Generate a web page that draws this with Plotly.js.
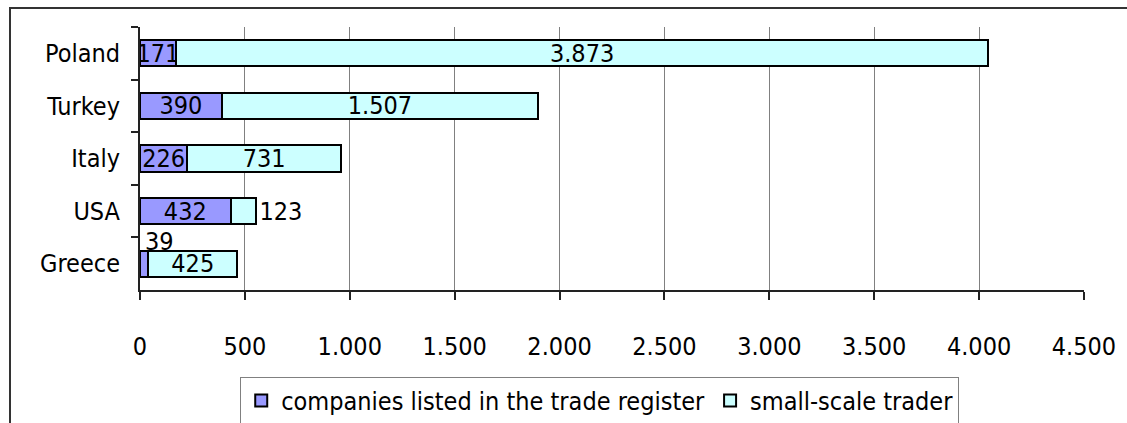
<!DOCTYPE html>
<html>
<head>
<meta charset="utf-8">
<script src="https://cdn.plot.ly/plotly-3.0.1.min.js"></script>
<style>
html,body{margin:0;padding:0;background:#fff;overflow:hidden;}
#wrap{position:relative;width:1127px;height:423px;overflow:hidden;}
#chart{width:1127px;height:423px;}
#frame{position:absolute;left:9px;top:7px;width:2000px;height:2000px;border-left:2px solid #333;border-top:2px solid #333;pointer-events:none;}
</style>
</head>
<body>
<div id="wrap">
<div id="chart"></div>
<div id="frame"></div>
</div>
<script>
var categories = ["Poland", "Turkey", "Italy", "USA", "Greece"];
var companies = [171, 390, 226, 432, 39];
var smallScale = [3873, 1507, 731, 123, 425];
var seriesNames = ["companies listed in the trade register", "small-scale trader"];
var tickVals = [0, 500, 1000, 1500, 2000, 2500, 3000, 3500, 4000, 4500];

var FONT = '"DejaVu Sans Condensed", "Liberation Sans Narrow", "DejaVu Sans", sans-serif';
var FS = 25;

// labels that do not sit inside their bar
var compPos = companies.map(function(v){ return v < 100 ? 'none' : 'inside'; });
var smallPos = smallScale.map(function(v){ return v < 200 ? 'outside' : 'inside'; });

var traces = [
  {
    type: 'bar', orientation: 'h', name: seriesNames[0],
    y: categories, x: companies,
    marker: {color: '#9999FF', line: {color: '#000', width: 2}},
    texttemplate: '%{x:,d}', textposition: compPos,
    insidetextanchor: 'middle', constraintext: 'none',
    textfont: {family: FONT, size: FS, color: '#000'},
    hoverinfo: 'none'
  },
  {
    type: 'bar', orientation: 'h', name: seriesNames[1],
    y: categories, x: smallScale,
    marker: {color: '#CCFFFF', line: {color: '#000', width: 2}},
    texttemplate: '%{x:,d}', textposition: smallPos,
    insidetextanchor: 'middle', constraintext: 'none', cliponaxis: false,
    textfont: {family: FONT, size: FS, color: '#000'},
    hoverinfo: 'none'
  }
];

var annotations = [];
companies.forEach(function(v, i){
  if (compPos[i] === 'none') {
    annotations.push({
      x: 0, y: categories[i], xref: 'x', yref: 'y',
      text: String(v),
      showarrow: false, xanchor: 'left', yanchor: 'middle',
      xshift: 3, yshift: 22,
      font: {family: FONT, size: FS, color: '#000'}
    });
  }
});

var layout = {
  width: 1127, height: 423,
  margin: {l: 140, r: 43, t: 27, b: 133, pad: 0, autoexpand: false},
  paper_bgcolor: 'rgba(0,0,0,0)', plot_bgcolor: '#fff',
  separators: ',.',
  barmode: 'stack', bargap: 0.5,
  font: {family: FONT, size: FS, color: '#000'},
  showlegend: true,
  legend: {
    orientation: 'h', x: 0.487, xanchor: 'center', y: -0.33, yanchor: 'top',
    bordercolor: '#808080', borderwidth: 1, bgcolor: '#fff',
    font: {family: FONT, size: FS, color: '#000'},
    traceorder: 'normal', itemwidth: 30, tracegroupgap: 0
  },
  xaxis: {
    range: [0, 4500], tickvals: tickVals, tickformat: ',d',
    showgrid: true, gridcolor: '#808080', gridwidth: 1,
    zeroline: false, showline: true, linecolor: '#222', linewidth: 2,
    ticks: 'outside', ticklen: 8, tickwidth: 2, tickcolor: '#222',
    ticklabelstandoff: 25, automargin: false,
    tickfont: {family: FONT, size: FS, color: '#000'},
    fixedrange: true
  },
  yaxis: {
    categoryorder: 'array', categoryarray: categories,
    autorange: false, range: [4.5, -0.5],
    showgrid: false, zeroline: false, showline: true, linecolor: '#222', linewidth: 2,
    ticks: 'outside', tickson: 'boundaries', ticklen: 7, tickwidth: 2, tickcolor: '#222',
    ticklabelstandoff: 13, automargin: false,
    tickfont: {family: FONT, size: FS, color: '#000'},
    fixedrange: true
  },
  annotations: annotations
};

Plotly.newPlot('chart', traces, layout, {displayModeBar: false, staticPlot: true});
</script>
</body>
</html>
